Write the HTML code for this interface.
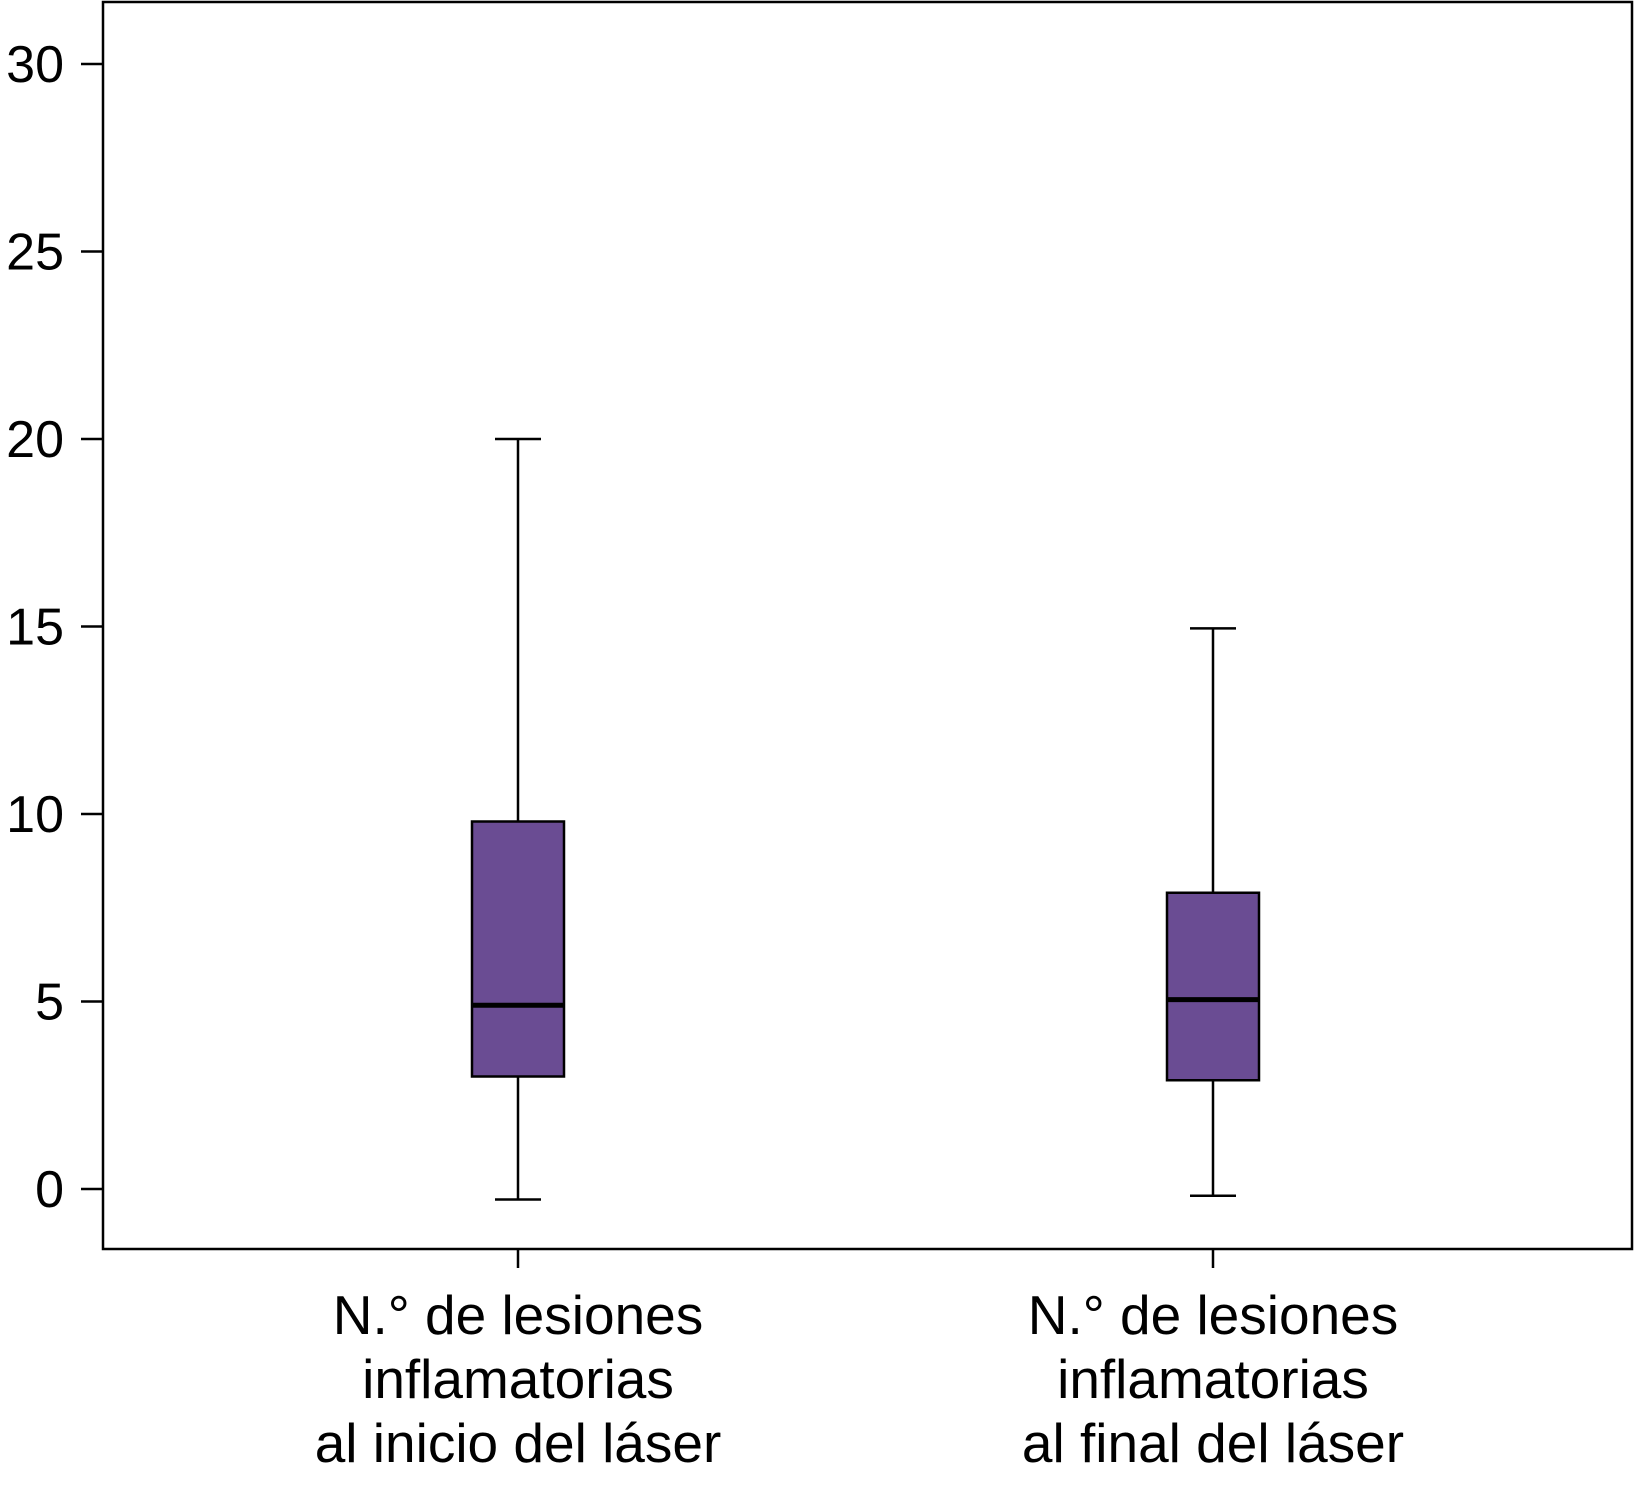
<!DOCTYPE html>
<html><head><meta charset="utf-8"><style>
html,body{margin:0;padding:0;background:#fff;}
svg{display:block;font-family:"Liberation Sans",sans-serif;}
</style></head><body>
<svg id="chart" width="1635" height="1485" viewBox="0 0 1635 1485" xmlns="http://www.w3.org/2000/svg"></svg>
<script>
const categories = [["N.° de lesiones","inflamatorias","al inicio del láser"],["N.° de lesiones","inflamatorias","al final del láser"]];
const whiskerHigh = [20, 14.95];
const q3Values = [9.8, 7.9];
const medianValues = [4.9, 5.05];
const q1Values = [3.0, 2.9];
const whiskerLow = [-0.28, -0.18];
const yTicks = [0,5,10,15,20,25,30];

(function(){
const svg = document.getElementById('chart');
const NS = 'http://www.w3.org/2000/svg';
const plotLeft=103, plotRight=1632, plotTop=2, plotBottom=1249;
const y0=1189, yPer=(1189-64)/30;
function yScale(v){return y0 - v*yPer;}
const xCenters=[518,1213];
function xScale(i){return xCenters[i];}
function mk(tag,attrs){const e=document.createElementNS(NS,tag);for(const k in attrs)e.setAttribute(k,attrs[k]);svg.appendChild(e);return e;}

const frame = mk('rect',{x:plotLeft,y:plotTop,width:plotRight-plotLeft,height:plotBottom-plotTop,fill:'none',stroke:'#000','stroke-width':2.5});



yTicks.forEach(function(t){
  const y=yScale(t);
  const l=mk('line',{x1:81,x2:plotLeft,y1:y,y2:y,stroke:'#000','stroke-width':2.5});
  
  
  const tx=mk('text',{x:64,y:y+18,'text-anchor':'end','font-size':52,fill:'#000'});
  tx.textContent=t;
  
  
});

categories.forEach(function(lines,i){
  const cx=xScale(i), hw=46, cap=23;
  const g=document.createElementNS(NS,'g');svg.appendChild(g);
  
  
  function add(tag,a){const e=document.createElementNS(NS,tag);for(const k in a)e.setAttribute(k,a[k]);g.appendChild(e);return e;}
  add('line',{x1:cx,x2:cx,y1:yScale(whiskerHigh[i]),y2:yScale(q3Values[i]),stroke:'#000','stroke-width':2.5});
  add('line',{x1:cx,x2:cx,y1:yScale(q1Values[i]),y2:yScale(whiskerLow[i]),stroke:'#000','stroke-width':2.5});
  const wh=add('line',{x1:cx-cap,x2:cx+cap,y1:yScale(whiskerHigh[i]),y2:yScale(whiskerHigh[i]),stroke:'#000','stroke-width':2.5});
  
  
  const wl=add('line',{x1:cx-cap,x2:cx+cap,y1:yScale(whiskerLow[i]),y2:yScale(whiskerLow[i]),stroke:'#000','stroke-width':2.5});
  
  
  const r=add('rect',{x:cx-hw,y:yScale(q3Values[i]),width:2*hw,height:yScale(q1Values[i])-yScale(q3Values[i]),fill:'#6a4c93',stroke:'#000','stroke-width':2.5});
  
  
  const m=add('line',{x1:cx-hw,x2:cx+hw,y1:yScale(medianValues[i]),y2:yScale(medianValues[i]),stroke:'#000','stroke-width':5});
  
  
  const xt=mk('line',{x1:cx,x2:cx,y1:plotBottom,y2:1268,stroke:'#000','stroke-width':2.5});
  
  
  const tx=mk('text',{'text-anchor':'middle','font-size':55,fill:'#000'});
  
  
  lines.forEach(function(s,j){const ts=document.createElementNS(NS,'tspan');ts.setAttribute('x',cx);ts.setAttribute('y',1334+j*64);ts.textContent=s;tx.appendChild(ts);});
});
})();
</script>
</body></html>
